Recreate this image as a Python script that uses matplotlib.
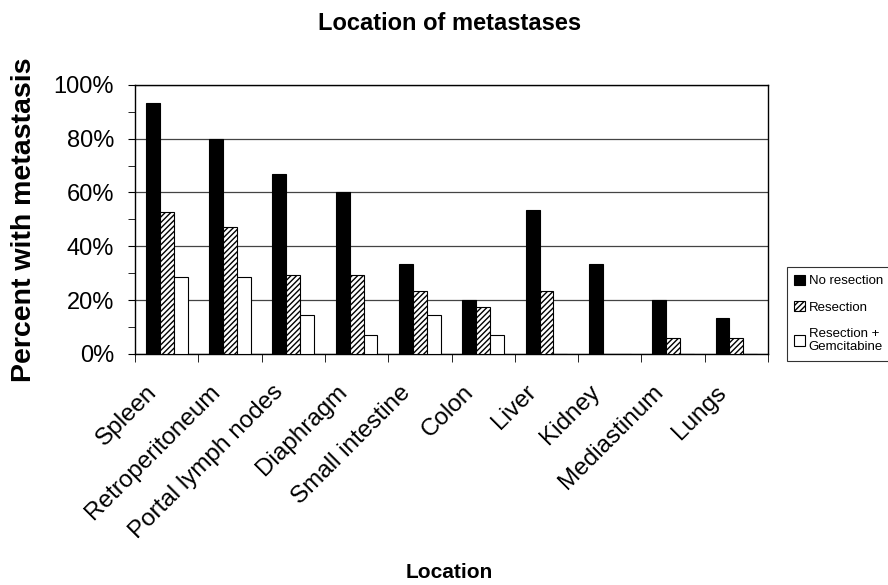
import numpy as np
import matplotlib.pyplot as plt
from matplotlib.ticker import MultipleLocator, PercentFormatter
from matplotlib.transforms import ScaledTranslation

plt.rcParams['font.family'] = ['Liberation Sans', 'DejaVu Sans']
plt.rcParams['hatch.linewidth'] = 1.0

locations = ['Spleen', 'Retroperitoneum', 'Portal lymph nodes', 'Diaphragm',
             'Small intestine', 'Colon', 'Liver', 'Kidney', 'Mediastinum', 'Lungs']
no_resection = [93.3, 80.0, 66.7, 60.0, 33.3, 20.0, 53.3, 33.3, 20.0, 13.3]
resection = [52.9, 47.1, 29.4, 29.4, 23.5, 17.6, 23.5, 0.0, 5.9, 5.9]
resection_gem = [28.6, 28.6, 14.3, 7.1, 14.3, 7.1, 0.0, 0.0, 0.0, 0.0]
series_names = ['No resection', 'Resection', 'Resection +\nGemcitabine']


def main():
    fig = plt.figure(figsize=(8.88, 5.85), dpi=100)
    ax = fig.add_axes([0.152, 0.395, 0.713, 0.46])
    x = np.arange(len(locations))
    w = 0.22
    ax.bar(x - w, no_resection, w, color='black', edgecolor='black',
           linewidth=0.8, label=series_names[0], zorder=3)
    ax.bar(x, resection, w, color='white', edgecolor='black', hatch='//////',
           linewidth=0.8, label=series_names[1], zorder=3)
    ax.bar(x + w, resection_gem, w, color='white', edgecolor='black',
           linewidth=0.8, label=series_names[2], zorder=3)

    ax.set_xlim(-0.5, len(locations) - 0.5)
    ax.set_ylim(0, 100)
    ax.yaxis.set_major_locator(MultipleLocator(20))
    ax.yaxis.set_minor_locator(MultipleLocator(10))
    ax.yaxis.set_major_formatter(PercentFormatter(decimals=0))
    ax.grid(axis='y', which='major', color='#444444', linewidth=0.9, zorder=0)
    ax.set_xticks(x)
    ax.set_xticklabels(locations, rotation=45, ha='right',
                       rotation_mode='anchor', fontsize=17.5)
    ax.tick_params(axis='x', length=0, pad=6)
    ax.set_xticks(np.arange(len(locations) + 1) - 0.5, minor=True)
    ax.tick_params(axis='x', which='minor', length=6, direction='out')
    ax.tick_params(axis='y', which='both', direction='out', length=5,
                   labelsize=17, pad=10)
    for s in ax.spines.values():
        s.set_linewidth(1.0)

    # shift rotated labels down-left like the original
    shift = ScaledTranslation(-0.21, -0.19, fig.dpi_scale_trans)
    for lab in ax.get_xticklabels():
        lab.set_transform(lab.get_transform() + shift)

    ax.set_ylabel('Percent with metastasis', fontsize=20.5, fontweight='bold',
                  labelpad=12)
    fig.text(0.506, 0.949, 'Location of metastases', ha='center',
             va='baseline', fontsize=17, fontweight='bold')
    fig.text(0.506, 0.012, 'Location', ha='center', va='baseline',
             fontsize=15, fontweight='bold')

    leg = ax.legend(loc='upper left', bbox_to_anchor=(1.019, 0.346),
                    fontsize=9.5, frameon=True, fancybox=False,
                    edgecolor='black', handlelength=0.8, handleheight=0.8,
                    handletextpad=0.3, labelspacing=1.05, borderpad=0.55)
    leg.get_frame().set_linewidth(0.8)

    fig.savefig('out.png', dpi=100)


if __name__ == '__main__':
    main()
